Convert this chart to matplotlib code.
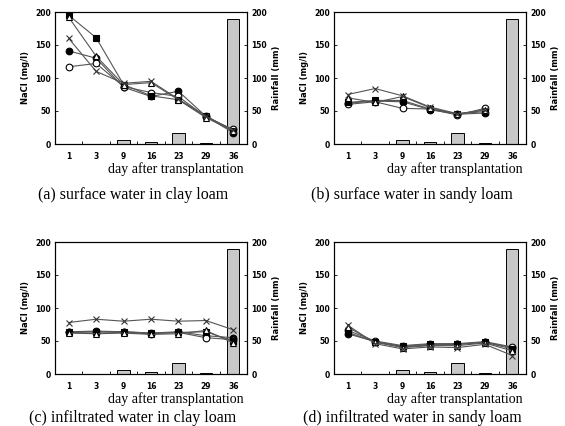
import matplotlib
matplotlib.use('Agg')
import matplotlib.pyplot as plt
import numpy as np

# categories (days after transplantation)
days = ['1', '3', '9', '16', '23', '29', '36']
rainfall = [0, 0, 6, 3, 17, 1, 190]

# NaCl (mg/l) per panel, one list per treatment marker
# order: filled circle, open circle, filled square, open triangle, cross
panel_a = {
    'fc': [141, 130, 86, 72, 80, 42, 17],
    'oc': [117, 122, 87, 78, 72, 41, 22],
    'fs': [195, 161, 90, 73, 67, 43, 19],
    'ot': [192, 133, 90, 93, 67, 40, 20],
    'x':  [160, 110, 92, 95, 68, 42, 21],
}
panel_b = {
    'fc': [62, 65, 64, 52, 45, 47, None],
    'oc': [60, 64, 54, 53, 44, 54, None],
    'fs': [63, 66, 66, 53, 46, 49, None],
    'ot': [70, 63, 72, 55, 45, 52, None],
    'x':  [75, 84, 73, 56, 46, 51, None],
}
panel_c = {
    'fc': [64, 65, 64, 62, 64, 58, 55],
    'oc': [63, 62, 63, 61, 63, 55, 52],
    'fs': [64, 64, 64, 62, 63, 64, 50],
    'ot': [62, 61, 62, 60, 61, 66, 47],
    'x':  [78, 83, 80, 83, 80, 81, 67],
}
panel_d = {
    'fc': [61, 49, 41, 44, 45, 48, 40],
    'oc': [66, 50, 43, 46, 46, 49, 41],
    'fs': [63, 49, 42, 45, 45, 48, 38],
    'ot': [71, 48, 40, 43, 43, 47, 35],
    'x':  [74, 46, 38, 41, 40, 45, 28],
}
captions = ['(a) surface water in clay loam', '(b) surface water in sandy loam',
            '(c) infiltrated water in clay loam', '(d) infiltrated water in sandy loam']

styles = {
    'fc': dict(marker='o', mfc='black', mec='black'),
    'oc': dict(marker='o', mfc='white', mec='black'),
    'fs': dict(marker='s', mfc='black', mec='black'),
    'ot': dict(marker='^', mfc='white', mec='black'),
    'x':  dict(marker='x', mfc='none', mec='#333333'),
}

fig = plt.figure(figsize=(5.65, 4.26), dpi=100)
W, H = 565, 426
boxes = [(55, 12), (334, 12), (55, 242), (334, 242)]
cap_y = [195, 195, 418, 418]
aw, ah = 192, 132

x = np.arange(len(days))
for (left, top), cy, data, cap in zip(boxes, cap_y, [panel_a, panel_b, panel_c, panel_d], captions):
    ax = fig.add_axes([left / W, 1 - (top + ah) / H, aw / W, ah / H])
    ax2 = ax.twinx()
    ax2.bar(x, rainfall, width=0.45, color='#c8c8c8', edgecolor='black', linewidth=0.7)
    ax.set_zorder(ax2.get_zorder() + 1)
    ax.patch.set_visible(False)

    for key, vals in data.items():
        y = np.array([np.nan if v is None else v for v in vals], dtype=float)
        ax.plot(x, y, color='#555555', linewidth=0.8, markersize=4.8,
                markeredgewidth=0.8, **styles[key])

    for a in (ax, ax2):
        a.set_ylim(0, 200)
        a.set_xlim(-0.5, 6.5)
        a.set_yticks([0, 50, 100, 150, 200])
        a.tick_params(axis='y', direction='in', length=2.5, width=0.6, pad=3,
                      labelsize=5.5)
        for lbl in a.get_yticklabels():
            lbl.set_fontweight('bold')
        for s in a.spines.values():
            s.set_linewidth(0.8)
    ax.set_xticks(x)
    ax.set_xticklabels(days, fontsize=5.5, fontweight='bold')
    ax.set_xticks(np.arange(0.5, 6.5, 1), minor=True)
    ax.tick_params(axis='x', which='major', length=0, pad=6)
    ax.tick_params(axis='x', which='minor', direction='in', length=2.5, width=0.6)
    ax.set_ylabel('NaCl (mg/l)', fontsize=6, fontweight='bold', labelpad=4)
    ax2.set_ylabel('Rainfall (mm)', fontsize=6, fontweight='bold', labelpad=4)

    ax.text(0.98, -0.19, 'day after transplantation', transform=ax.transAxes,
            ha='right', va='center', family='Liberation Serif', fontsize=10)
    fig.text((left + aw / 2 - 18) / W, 1 - cy / H, cap,
             ha='center', va='center', family='Liberation Serif', fontsize=11.5)

fig.savefig('out.png', dpi=100)
